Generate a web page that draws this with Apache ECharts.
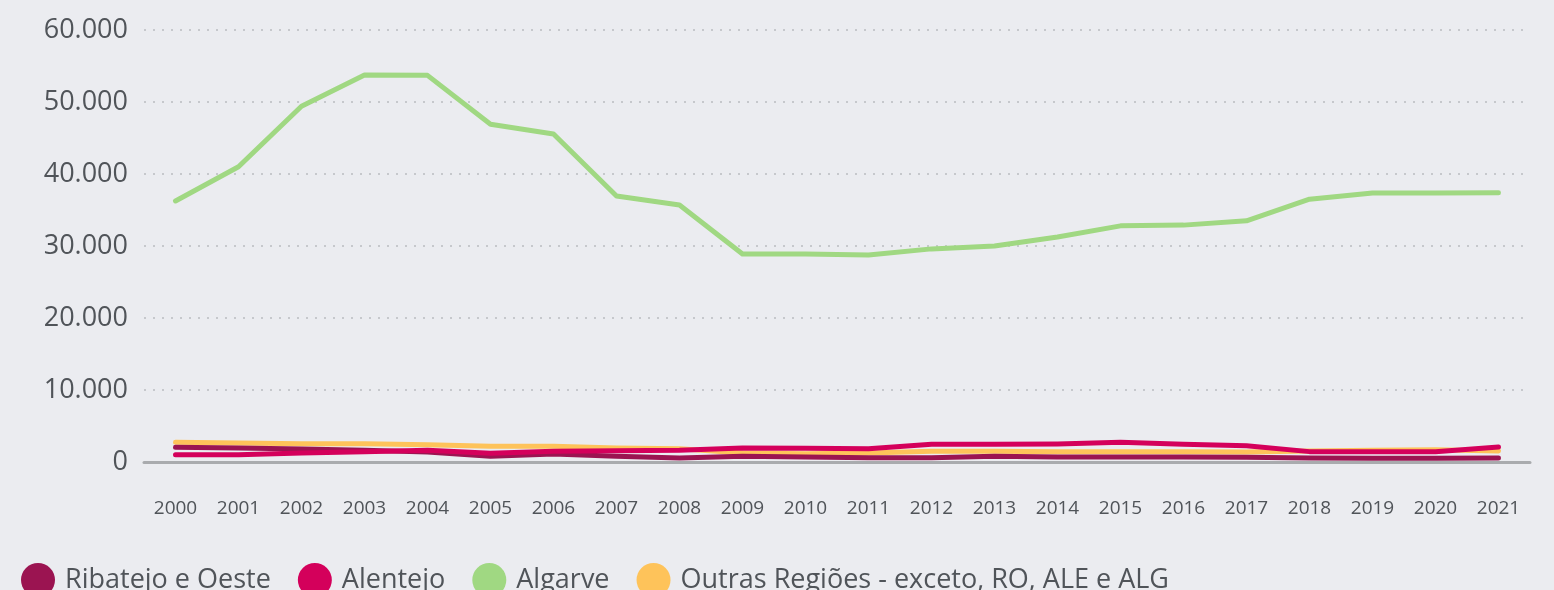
<!DOCTYPE html>
<html>
<head>
<meta charset="utf-8">
<style>
  html, body { margin: 0; padding: 0; background: #ebecf0; }
  #chart { width: 1554px; height: 590px; }
</style>
<script src="https://cdn.jsdelivr.net/npm/echarts@6/dist/echarts.min.js"></script>
</head>
<body>
<div id="chart"></div>
<script>
const years = ["2000", "2001", "2002", "2003", "2004", "2005", "2006", "2007", "2008", "2009", "2010",
  "2011", "2012", "2013", "2014", "2015", "2016", "2017", "2018", "2019", "2020", "2021"];

const ribatejoOeste = [2040, 1940, 1810, 1620, 1390, 800, 1100, 790, 560, 790, 690,
  600, 600, 790, 690, 690, 690, 650, 560, 510, 510, 560];
const alentejo = [1020, 1020, 1250, 1440, 1620, 1200, 1480, 1570, 1620, 1940, 1900,
  1850, 2450, 2450, 2500, 2730, 2450, 2270, 1440, 1440, 1440, 2080];
const algarve = [36250, 41000, 49400, 53750, 53700, 46900, 45550, 36950, 35700, 28900, 28900,
  28750, 29600, 30000, 31250, 32800, 32900, 33500, 36500, 37350, 37350, 37400];
const outrasRegioes = [2730, 2640, 2550, 2550, 2410, 2180, 2180, 1940, 1850, 1250, 1160,
  1250, 1480, 1480, 1440, 1440, 1440, 1390, 1530, 1620, 1710, 1530];

const yTicks = { min: 0, max: 60000, step: 10000 };

const textColor = "#505459";
const fontFamily = "'Open Sans', 'DejaVu Sans', sans-serif";

function formatThousands(value) {
  return String(value).replace(/\B(?=(\d{3})+(?!\d))/g, ".");
}

function lineSeries(name, data, color, z) {
  return {
    name,
    type: "line",
    data,
    z,
    symbol: "none",
    lineStyle: { color, width: 5, cap: "round", join: "round" },
    itemStyle: { color },
    emphasis: { disabled: true }
  };
}

const chart = echarts.init(document.getElementById("chart"));

chart.setOption({
  backgroundColor: "#ebecf0",
  animation: false,
  textStyle: { fontFamily },
  grid: { left: 144, right: 24, top: 30, bottom: 128, containLabel: false },
  legend: {
    left: 16,
    top: 558,
    icon: "circle",
    itemWidth: 34,
    itemHeight: 34,
    itemGap: 27,
    textStyle: { color: textColor, fontSize: 27, fontFamily, padding: [0, 0, 0, 5] },
    data: ["Ribatejo e Oeste", "Alentejo", "Algarve", "Outras Regiões - exceto, RO, ALE e ALG"]
  },
  xAxis: {
    type: "category",
    data: years,
    boundaryGap: true,
    axisLine: { show: true, lineStyle: { color: "#a9abae", width: 3 } },
    axisTick: { show: false },
    axisLabel: { color: textColor, fontSize: 19, margin: 37, interval: 0 }
  },
  yAxis: {
    type: "value",
    min: yTicks.min,
    max: yTicks.max,
    interval: yTicks.step,
    axisLine: { show: false },
    axisTick: { show: false },
    axisLabel: { color: textColor, fontSize: 27, margin: 16, formatter: formatThousands },
    splitLine: { lineStyle: { color: "#c6c8cc", type: [2, 7], width: 2 } }
  },
  series: [
    lineSeries("Outras Regiões - exceto, RO, ALE e ALG", outrasRegioes, "#fec35a", 2),
    lineSeries("Algarve", algarve, "#a0d882", 3),
    lineSeries("Ribatejo e Oeste", ribatejoOeste, "#9b1451", 4),
    lineSeries("Alentejo", alentejo, "#d4005b", 5)
  ]
});
</script>
</body>
</html>
